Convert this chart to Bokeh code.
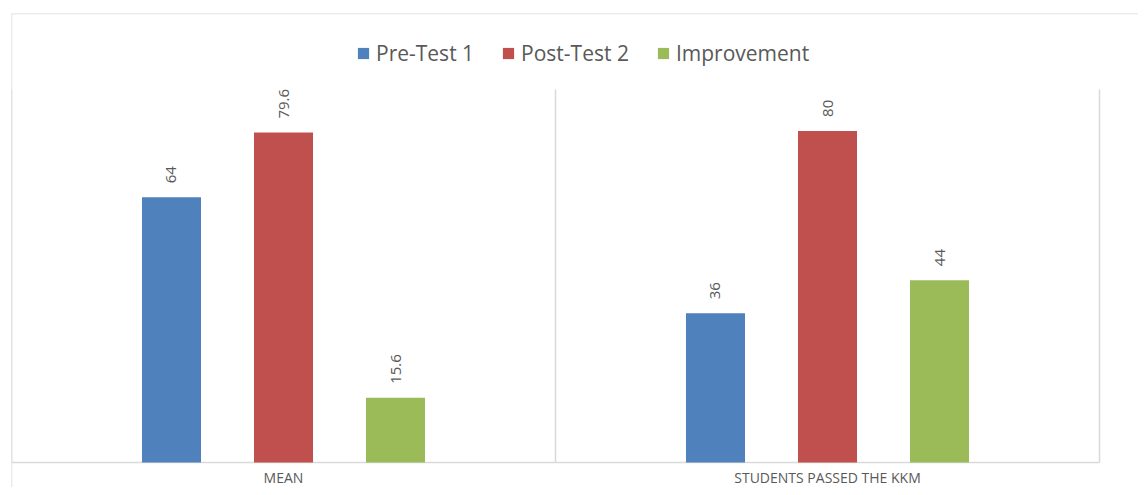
import numpy as np
from bokeh.plotting import figure
from bokeh.models import Range1d, Legend, LegendItem, Span, ColumnDataSource
from bokeh.embed import file_html
from bokeh.resources import INLINE
from bokeh.core.properties import value

# ---- data ----
categories = ["MEAN", "STUDENTS PASSED THE KKM"]
series_names = ["Pre-Test 1", "Post-Test 2", "Improvement"]
pre_test = [64, 36]
post_test = [79.6, 80]
improvement = [15.6, 44]
y_axis_max = 90

# ---- style ----
colors = ["#4F81BD", "#C0504D", "#9BBB59"]
text_gray = "#595959"
line_gray = "#D9D9D9"
font = "Open Sans"

W, H = 1138, 487
px_per_x = 544.0            # pixels per category
px_per_y = 373.0 / y_axis_max
x_end = 1127 / px_per_x
y_end = 449 / px_per_y
y_start = -25 / px_per_y

p = figure(width=W, height=H, output_backend="svg", toolbar_location=None,
           x_range=Range1d(0, x_end), y_range=Range1d(y_start, y_end),
           x_axis_location=None, y_axis_location=None,
           min_border_left=11, min_border_right=0, min_border_top=13,
           min_border_bottom=0)
p.outline_line_color = None
p.background_fill_color = "white"
p.border_fill_color = "white"
p.xgrid.visible = False
p.ygrid.visible = False

centers = np.arange(len(categories)) + 0.5
bar_w = 0.1085
offsets = [-0.2059, 0.0, 0.2059]

# chart border (top / left)
p.add_layout(Span(location=y_end, dimension="width", line_color=line_gray, line_width=1.5))
p.add_layout(Span(location=0, dimension="height", line_color=line_gray, line_width=1.5))

# category boundary lines and category axis line
bounds = np.arange(len(categories) + 1)
p.segment(x0=bounds, y0=0, x1=bounds, y1=y_axis_max,
          line_color=line_gray, line_width=1.5)
p.segment(x0=[bounds[0]], y0=[0], x1=[bounds[-1]], y1=[0],
          line_color=line_gray, line_width=1.5)

renderers = []
for vals, off, col in zip([pre_test, post_test, improvement], offsets, colors):
    src = ColumnDataSource(dict(x=centers + off, top=vals,
                                label=[f"{v:g}" for v in vals]))
    r = p.vbar(x="x", top="top", width=bar_w, source=src,
               fill_color=col, line_color=None)
    p.text(x="x", y="top", text="label", source=src, angle=np.pi / 2,
           text_align="left", text_baseline="middle", y_offset=-14,
           text_font=value(font), text_font_size="15px", text_color=text_gray)
    renderers.append(r)

# category labels below the axis line
cat_src = ColumnDataSource(dict(x=centers, y=[0] * len(categories), name=categories))
p.text(x="x", y="y", text="name", source=cat_src, text_align="center",
       text_baseline="top", y_offset=5, text_font=value(font),
       text_font_size="14px", text_color=text_gray)

legend = Legend(items=[LegendItem(label=n, renderers=[r])
                       for n, r in zip(series_names, renderers)],
                orientation="horizontal", location=(345, 420),
                padding=0, margin=0, spacing=27, label_standoff=6,
                glyph_width=14, glyph_height=14, label_height=20,
                label_text_font=font, label_text_font_size="21px",
                label_text_color=text_gray, border_line_color=None,
                background_fill_alpha=0)
p.add_layout(legend)

open("out.html", "w").write(file_html(p, INLINE))
